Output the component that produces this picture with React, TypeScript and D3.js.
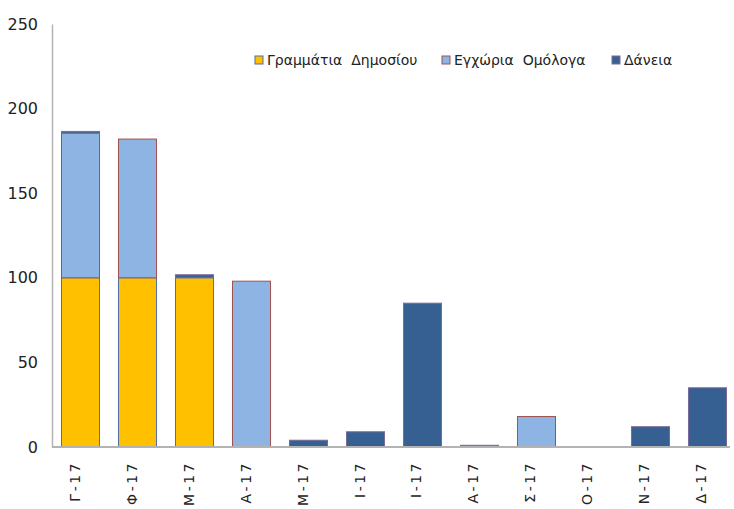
import React, { useRef, useEffect } from 'react'
import * as d3 from 'd3'

const months = ['Γ-17', 'Φ-17', 'Μ-17', 'Α-17', 'Μ-17', 'Ι-17', 'Ι-17', 'Α-17', 'Σ-17', 'Ο-17', 'Ν-17', 'Δ-17']
const tbills = [100, 100, 100, 0, 0, 0, 0, 0, 0, 0, 0, 0]
const bonds = [85.5, 82, 0, 98, 0, 0, 0, 0, 18, 0, 0, 0]
const loans = [1, 0, 1.8, 0, 4, 9, 85, 1, 0, 0, 12, 35]
const seriesNames = ['Γραμμάτια  Δημοσίου', 'Εγχώρια  Ομόλογα', 'Δάνεια']
const yTicks = [0, 50, 100, 150, 200, 250]

const fills = ['#FFC000', '#8EB4E3', '#376092']
const strokes = ['#4F6FA8', '#A0504F', '#7A6A9A']

const App = () => {
	const svgRef = useRef<SVGSVGElement>(null)

	useEffect(() => {
		document.body.style.margin = '0'
		const svg = d3.select(svgRef.current)
		svg.selectAll('*').remove()

		const height = 509
		const margin = { top: 24, bottom: 62, left: 52 }
		const axisEnd = 730
		const font = 'DejaVu Sans, Tahoma, sans-serif'

		const rows = months.map((m, i) => ({ i, tbills: tbills[i], bonds: bonds[i], loans: loans[i] }))
		const keys = ['tbills', 'bonds', 'loans']
		const stacked = d3.stack<any>().keys(keys)(rows)

		const x = d3
			.scaleBand<number>()
			.domain(months.map((d, i) => i))
			.range([margin.left, 736])
			.paddingInner(0.333)
			.paddingOuter(0.1667)

		const y = d3
			.scaleLinear()
			.domain([0, 250])
			.range([height - margin.bottom, margin.top])

		// bars
		stacked.forEach((layer, k) => {
			svg
				.append('g')
				.selectAll('rect')
				.data(layer.filter(d => d[1] - d[0] > 0))
				.enter()
				.append('rect')
				.attr('x', d => x(d.data.i)!)
				.attr('y', d => y(d[1]))
				.attr('width', x.bandwidth())
				.attr('height', d => y(d[0]) - y(d[1]))
				.attr('fill', fills[k])
				.attr('stroke', strokes[k])
				.attr('stroke-width', 1)
		})

		// y axis
		const yAxis = d3.axisLeft(y).tickValues(yTicks).tickSize(0).tickPadding(14)
		const gy = svg.append('g').attr('transform', `translate(${margin.left},0)`).call(yAxis)
		gy.select('.domain').attr('stroke', '#B3B3B3').attr('stroke-width', 1.5)
		gy.selectAll('text').attr('font-family', font).attr('font-size', 16).attr('fill', '#222')

		// x axis
		const xAxis = d3.axisBottom(x).tickFormat(i => months[i as number]).tickSize(0).tickPadding(0)
		const gx = svg.append('g').attr('transform', `translate(0,${height - margin.bottom})`).call(xAxis)
		gx.select('.domain').remove()
		gx.append('line')
			.attr('x1', margin.left)
			.attr('x2', axisEnd)
			.attr('stroke', '#B3B3B3')
			.attr('stroke-width', 2)
		gx.selectAll('text')
			.attr('font-family', font)
			.attr('font-size', 14)
			.attr('fill', '#222')
			.attr('letter-spacing', 2.5)
			.attr('text-anchor', 'end')
			.attr('dy', null)
			.attr('transform', 'translate(-1,14) rotate(-90)')

		// legend
		const legendX = [255, 442, 612]
		const lg = svg.append('g')
		seriesNames.forEach((name, k) => {
			lg.append('rect')
				.attr('x', legendX[k])
				.attr('y', 56)
				.attr('width', 8)
				.attr('height', 8)
				.attr('fill', fills[k])
				.attr('stroke', strokes[k])
			lg.append('text')
				.attr('x', legendX[k] + 12)
				.attr('y', 65)
				.attr('font-family', font)
				.attr('font-size', 14)
				.attr('fill', '#222')
				.style('white-space', 'pre')
				.text(name)
		})
	}, [])

	return <svg ref={svgRef} width={734} height={509} style={{ display: 'block' }}></svg>
}

export default App
